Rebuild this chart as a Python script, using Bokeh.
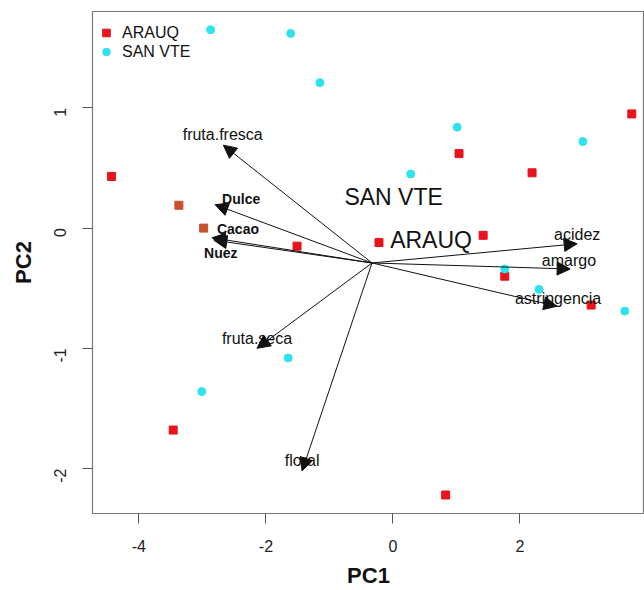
import math
from bokeh.plotting import figure
from bokeh.models import (ColumnDataSource, Arrow, NormalHead, FixedTicker,
                          Legend, LegendItem, Range1d, PrintfTickFormatter)
from bokeh.core.properties import value
from bokeh.embed import file_html
from bokeh.resources import INLINE

# ---- data ----
arauq_x = [-4.43, -3.37, -2.98, -1.51, -0.22, 1.42, 1.04, 2.19, 1.76, 3.12, 3.76, -3.46, 0.83]
arauq_y = [0.43, 0.19, 0.00, -0.15, -0.12, -0.06, 0.62, 0.46, -0.40, -0.64, 0.95, -1.68, -2.22]
arauq_col = ["#e8141c", "#c9502f", "#c9502f", "#e8141c", "#e8141c", "#e8141c", "#e8141c",
             "#e8141c", "#e8141c", "#e8141c", "#e8141c", "#e8141c", "#e8141c"]

sanvte_x = [-2.87, -1.61, -1.15, 1.01, 0.28, 2.99, 1.76, 2.30, 3.65, -1.65, -3.01]
sanvte_y = [1.65, 1.62, 1.21, 0.84, 0.45, 0.72, -0.34, -0.51, -0.69, -1.08, -1.36]

var_names = ["fruta.fresca", "Dulce", "Cacao", "Nuez", "fruta.seca", "floral",
             "acidez", "amargo", "astringencia"]
var_bold = [False, True, True, True, False, False, False, False, False]
arrow_x0 = -0.33
arrow_y0 = -0.29
arrow_x1 = [-2.67, -2.80, -2.85, -2.82, -2.14, -1.43, 2.90, 2.79, 2.58]
arrow_y1 = [0.69, 0.195, -0.08, -0.10, -1.00, -2.02, -0.13, -0.34, -0.65]
label_x = [-2.68, -2.39, -2.44, -2.71, -2.14, -1.43, 2.90, 2.77, 2.60]
label_y = [0.775, 0.245, -0.004, -0.21, -0.916, -1.935, -0.054, -0.27, -0.584]

group_names = ["SAN VTE", "ARAUQ"]
group_x = [0.01, 0.60]
group_y = [0.26, -0.095]

x_ticks = [-4, -2, 0, 2, 4]
y_ticks = [-2, -1, 0, 1]

FONT = "Liberation Sans"

p = figure(width=644, height=590, output_backend="svg", toolbar_location=None,
           x_range=Range1d(-4.73, 3.96), y_range=Range1d(-2.374, 1.802),
           min_border_left=92, min_border_right=0, min_border_top=11, min_border_bottom=75)
p.xgrid.visible = False
p.ygrid.visible = False
p.outline_line_color = "#7a7a7a"
p.outline_line_width = 1.2
p.background_fill_color = "white"
p.border_fill_color = "white"

for ax in (p.xaxis[0], p.yaxis[0]):
    ax.axis_line_color = None
    ax.major_tick_line_color = "#555555"
    ax.major_tick_out = 10
    ax.major_tick_in = 0
    ax.minor_tick_line_color = None
    ax.major_label_text_font = FONT
    ax.major_label_text_font_size = "16px"
    ax.major_label_text_color = "#222222"
    ax.axis_label_text_font = FONT
    ax.axis_label_text_font_style = "bold"
    ax.axis_label_text_font_size = "22px"
    ax.axis_label_text_color = "#111111"
    ax.formatter = PrintfTickFormatter(format="%d")

p.xaxis.ticker = FixedTicker(ticks=x_ticks)
p.yaxis.ticker = FixedTicker(ticks=y_ticks)
p.xaxis.axis_label = "PC1"
p.yaxis.axis_label = "PC2"
p.xaxis.major_label_standoff = 16
p.xaxis.axis_label_standoff = 8
p.yaxis.major_label_standoff = 22
p.yaxis.axis_label_standoff = 10
p.yaxis.major_label_orientation = math.pi / 2

# arrows
asrc = ColumnDataSource(dict(x0=[arrow_x0] * len(arrow_x1), y0=[arrow_y0] * len(arrow_y1),
                             x1=arrow_x1, y1=arrow_y1))
p.add_layout(Arrow(source=asrc, x_start="x0", y_start="y0", x_end="x1", y_end="y1",
                   line_color="#111111", line_width=1,
                   end=NormalHead(size=13, fill_color="#111111", line_color="#111111")))

# points
rsrc = ColumnDataSource(dict(x=arauq_x, y=arauq_y, c=arauq_col))
r_red = p.scatter("x", "y", source=rsrc, marker="square", size=8, fill_color="c",
                  line_color="c")
csrc = ColumnDataSource(dict(x=sanvte_x, y=sanvte_y))
r_cyan = p.scatter("x", "y", source=csrc, marker="circle", size=8, fill_color="#2fe3ee",
                   line_color="#2fe3ee")

# variable labels
normal_idx = [i for i, b in enumerate(var_bold) if not b]
bold_idx = [i for i, b in enumerate(var_bold) if b]
nsrc = ColumnDataSource(dict(x=[label_x[i] for i in normal_idx], y=[label_y[i] for i in normal_idx],
                             t=[var_names[i] for i in normal_idx]))
bsrc = ColumnDataSource(dict(x=[label_x[i] for i in bold_idx], y=[label_y[i] for i in bold_idx],
                             t=[var_names[i] for i in bold_idx]))
p.text("x", "y", text="t", source=nsrc, text_font=value(FONT), text_font_size="16px",
       text_align="center", text_baseline="middle", text_color="#111111")
p.text("x", "y", text="t", source=bsrc, text_font=value(FONT), text_font_size="14px",
       text_font_style="bold", text_align="center", text_baseline="middle", text_color="#111111")

gsrc = ColumnDataSource(dict(x=group_x, y=group_y, t=group_names))
p.text("x", "y", text="t", source=gsrc, text_font=value(FONT),
       text_font_size="23px", text_align="center", text_baseline="middle", text_color="#111111")

legend = Legend(items=[LegendItem(label="ARAUQ", renderers=[r_red], index=0),
                       LegendItem(label="SAN VTE", renderers=[r_cyan], index=0)],
                location=(4, 452))
legend.margin = 0
legend.padding = 4
legend.border_line_color = None
legend.background_fill_alpha = 0
legend.glyph_width = 20
legend.glyph_height = 19
legend.label_height = 19
legend.spacing = 0
legend.label_standoff = 6
legend.label_text_font = FONT
legend.label_text_font_size = "16px"
legend.label_text_color = "#111111"
p.add_layout(legend)

open("out.html", "w").write(file_html(p, INLINE))
